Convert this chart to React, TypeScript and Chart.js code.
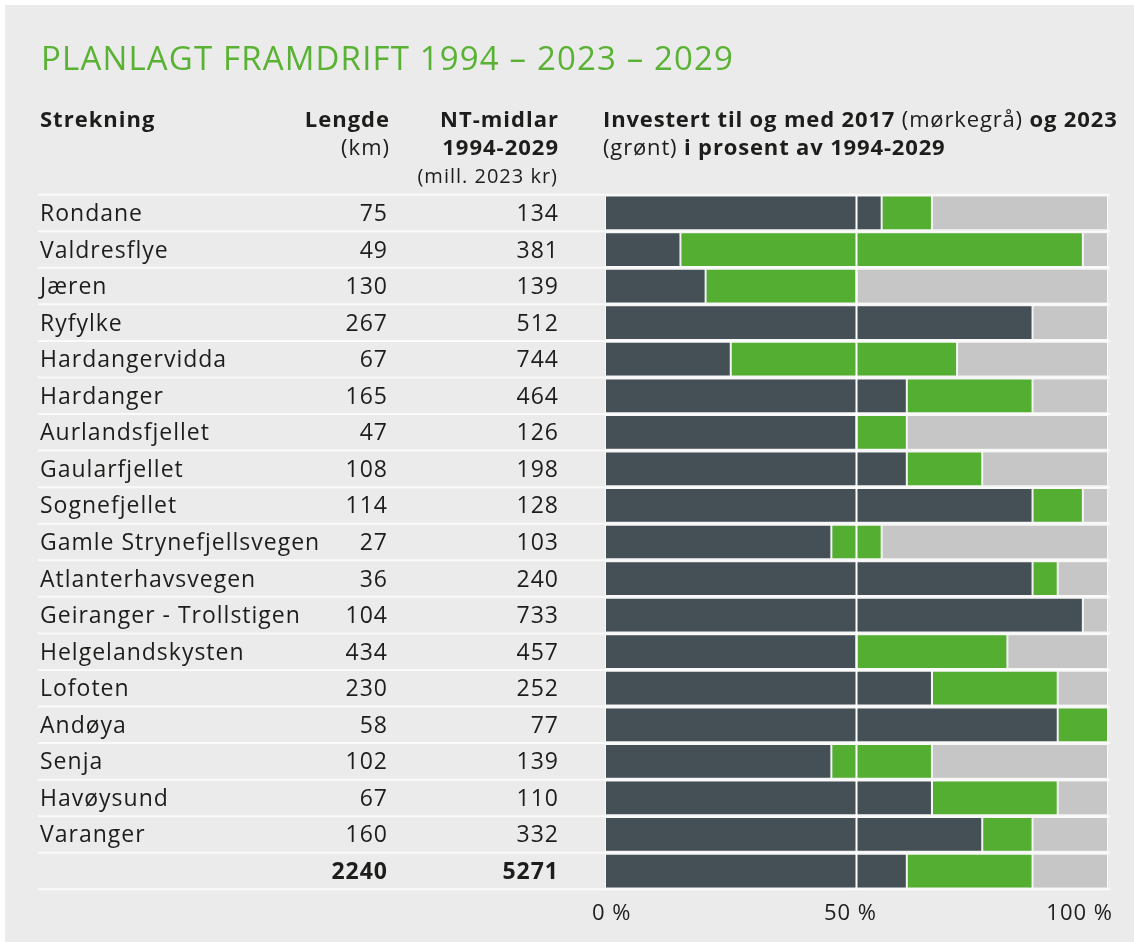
import React, { useEffect, useRef } from "react";
import { Chart, registerables } from "chart.js";

Chart.register(...registerables);

// ---------- data ----------
const strekning = [
  "Rondane",
  "Valdresflye",
  "Jæren",
  "Ryfylke",
  "Hardangervidda",
  "Hardanger",
  "Aurlandsfjellet",
  "Gaularfjellet",
  "Sognefjellet",
  "Gamle Strynefjellsvegen",
  "Atlanterhavsvegen",
  "Geiranger - Trollstigen",
  "Helgelandskysten",
  "Lofoten",
  "Andøya",
  "Senja",
  "Havøysund",
  "Varanger",
  "",
];
const lengde = [75, 49, 130, 267, 67, 165, 47, 108, 114, 27, 36, 104, 434, 230, 58, 102, 67, 160, 2240];
const ntMidlar = [134, 381, 139, 512, 744, 464, 126, 198, 128, 103, 240, 733, 457, 252, 77, 139, 110, 332, 5271];
// share invested up to and including 2017 (dark grey) and 2023 (green end), in %
const invested2017 = [55, 15, 20, 85, 25, 60, 50, 60, 85, 45, 85, 95, 50, 65, 90, 45, 65, 75, 60];
const invested2023 = [65, 95, 50, 85, 70, 85, 60, 75, 95, 55, 90, 95, 80, 90, 100, 65, 90, 85, 85];
const xTicks = [0, 50, 100];
const xTickLabels = ["0 %", "50 %", "100 %"];

const TITLE = "PLANLAGT FRAMDRIFT 1994 – 2023 – 2029";

// ---------- style ----------
const BG = "#ebebeb";
const DARK = "#444f56";
const GREEN = "#53ae32";
const LIGHT = "#c6c6c6";
const TEXT = "#1d1d1b";
const TITLE_GREEN = "#5ab234";
const FONT = "'Open Sans', 'Noto Sans', sans-serif";

const darkPart = invested2017.map((v) => v);
const greenPart = invested2023.map((v, i) => v - invested2017[i]);
const restPart = invested2023.map((v) => 100 - v);

function drawSegments(ctx: CanvasRenderingContext2D, segs: [string, boolean][], x: number, y: number, size: number) {
  let cx = x;
  for (const [t, bold] of segs) {
    ctx.font = `${bold ? 700 : 400} ${size}px ${FONT}`;
    ctx.fillText(t, cx, y);
    cx += ctx.measureText(t).width;
  }
}

const tablePlugin = {
  id: "tablePlugin",
  beforeDatasetsDraw(chart: any) {
    const ctx: CanvasRenderingContext2D = chart.ctx;
    const ys = chart.scales.y;
    const xs = chart.scales.x;
    const n = strekning.length;
    const half = (ys.getPixelForValue(1) - ys.getPixelForValue(0)) / 2;
    ctx.save();
    ctx.strokeStyle = "#fafafa";
    ctx.lineWidth = 2;
    for (let i = 0; i <= n; i++) {
      const py = i < n ? ys.getPixelForValue(i) - half : ys.getPixelForValue(n - 1) + half;
      ctx.beginPath();
      ctx.moveTo(33, py);
      ctx.lineTo(xs.right + 2, py);
      ctx.stroke();
    }
    ctx.restore();
  },
  afterDatasetsDraw(chart: any) {
    const ctx: CanvasRenderingContext2D = chart.ctx;
    const ys = chart.scales.y;
    const xs = chart.scales.x;
    ctx.save();
    // 50 % line
    ctx.strokeStyle = "#ffffff";
    ctx.lineWidth = 2;
    const p50 = xs.getPixelForValue(50);
    ctx.beginPath();
    ctx.moveTo(p50, ys.top);
    ctx.lineTo(p50, ys.bottom);
    ctx.stroke();

    (ctx as any).letterSpacing = "1px";
    ctx.fillStyle = TEXT;
    ctx.textBaseline = "alphabetic";

    // rows
    const n = strekning.length;
    for (let i = 0; i < n; i++) {
      const py = ys.getPixelForValue(i) + 8;
      const bold = i === n - 1;
      ctx.font = `${bold ? 700 : 400} 23px ${FONT}`;
      ctx.textAlign = "left";
      ctx.fillText(strekning[i], 35, py);
      ctx.textAlign = "right";
      ctx.fillText(String(lengde[i]), 383, py);
      ctx.fillText(String(ntMidlar[i]), 554, py);
    }

    // x tick labels
    const nudge = [-13, -6, 5];
    const aligns: CanvasTextAlign[] = ["left", "center", "right"];
    ctx.font = `400 22px ${FONT}`;
    xTicks.forEach((t, i) => {
      ctx.textAlign = aligns[i];
      ctx.fillText(xTickLabels[i], xs.getPixelForValue(t) + nudge[i], 915);
    });

    // title
    ctx.textAlign = "left";
    ctx.fillStyle = TITLE_GREEN;
    (ctx as any).letterSpacing = "1.15px";
    ctx.font = `500 33px ${FONT}`;
    ctx.fillText(TITLE, 36, 65);
    (ctx as any).letterSpacing = "1px";

    // headers
    ctx.fillStyle = TEXT;
    ctx.font = `700 22px ${FONT}`;
    ctx.fillText("Strekning", 35, 121.5);
    ctx.textAlign = "right";
    ctx.fillText("Lengde", 385, 121.5);
    ctx.fillText("NT-midlar", 554, 121.5);
    ctx.fillText("1994-2029", 554, 150);
    ctx.font = `400 22px ${FONT}`;
    ctx.fillText("(km)", 385, 150);
    ctx.font = `400 20px ${FONT}`;
    ctx.fillText("(mill. 2023 kr)", 553, 177.5);

    ctx.textAlign = "left";
    (ctx as any).letterSpacing = "0.85px";
    drawSegments(
      ctx,
      [
        ["Investert til og med 2017", true],
        [" (mørkegrå)", false],
        [" og 2023", true],
      ],
      598,
      121.5,
      22
    );
    drawSegments(
      ctx,
      [
        ["(grønt)", false],
        [" i prosent av 1994-2029", true],
      ],
      598,
      150,
      22
    );
    ctx.restore();
  },
};

export default function App() {
  const ref = useRef<HTMLCanvasElement | null>(null);
  useEffect(() => {
    if (!ref.current) return;
    const common = {
      borderColor: "rgba(255,255,255,0.7)",
      borderWidth: (c: any) => (c.raw === 0 ? 0 : 1),
      borderSkipped: false as const,
      barPercentage: 0.95,
      categoryPercentage: 1,
    };
    const chart = new Chart(ref.current, {
      type: "bar",
      data: {
        labels: strekning.map((s, i) => (s === "" ? `total-${i}` : s)),
        datasets: [
          { label: "2017", data: darkPart, backgroundColor: DARK, ...common },
          { label: "2023", data: greenPart, backgroundColor: GREEN, ...common },
          { label: "rest", data: restPart, backgroundColor: LIGHT, ...common },
        ] as any,
      },
      options: {
        indexAxis: "y",
        responsive: false,
        maintainAspectRatio: false,
        animation: false,
        layout: { padding: { left: 600, right: 26, top: 189.7, bottom: 52.7 } },
        scales: {
          x: { stacked: true, min: 0, max: 100, display: false },
          y: { stacked: true, display: false },
        },
        plugins: { legend: { display: false }, tooltip: { enabled: false } },
      },
      plugins: [tablePlugin],
    });
    return () => chart.destroy();
  }, []);
  return (
    <div
      style={{
        position: "absolute",
        left: 5,
        top: 5,
        width: 1129,
        height: 937,
        background: BG,
      }}
    >
      <canvas ref={ref} width={1129} height={937} style={{ display: "block" }} />
    </div>
  );
}
